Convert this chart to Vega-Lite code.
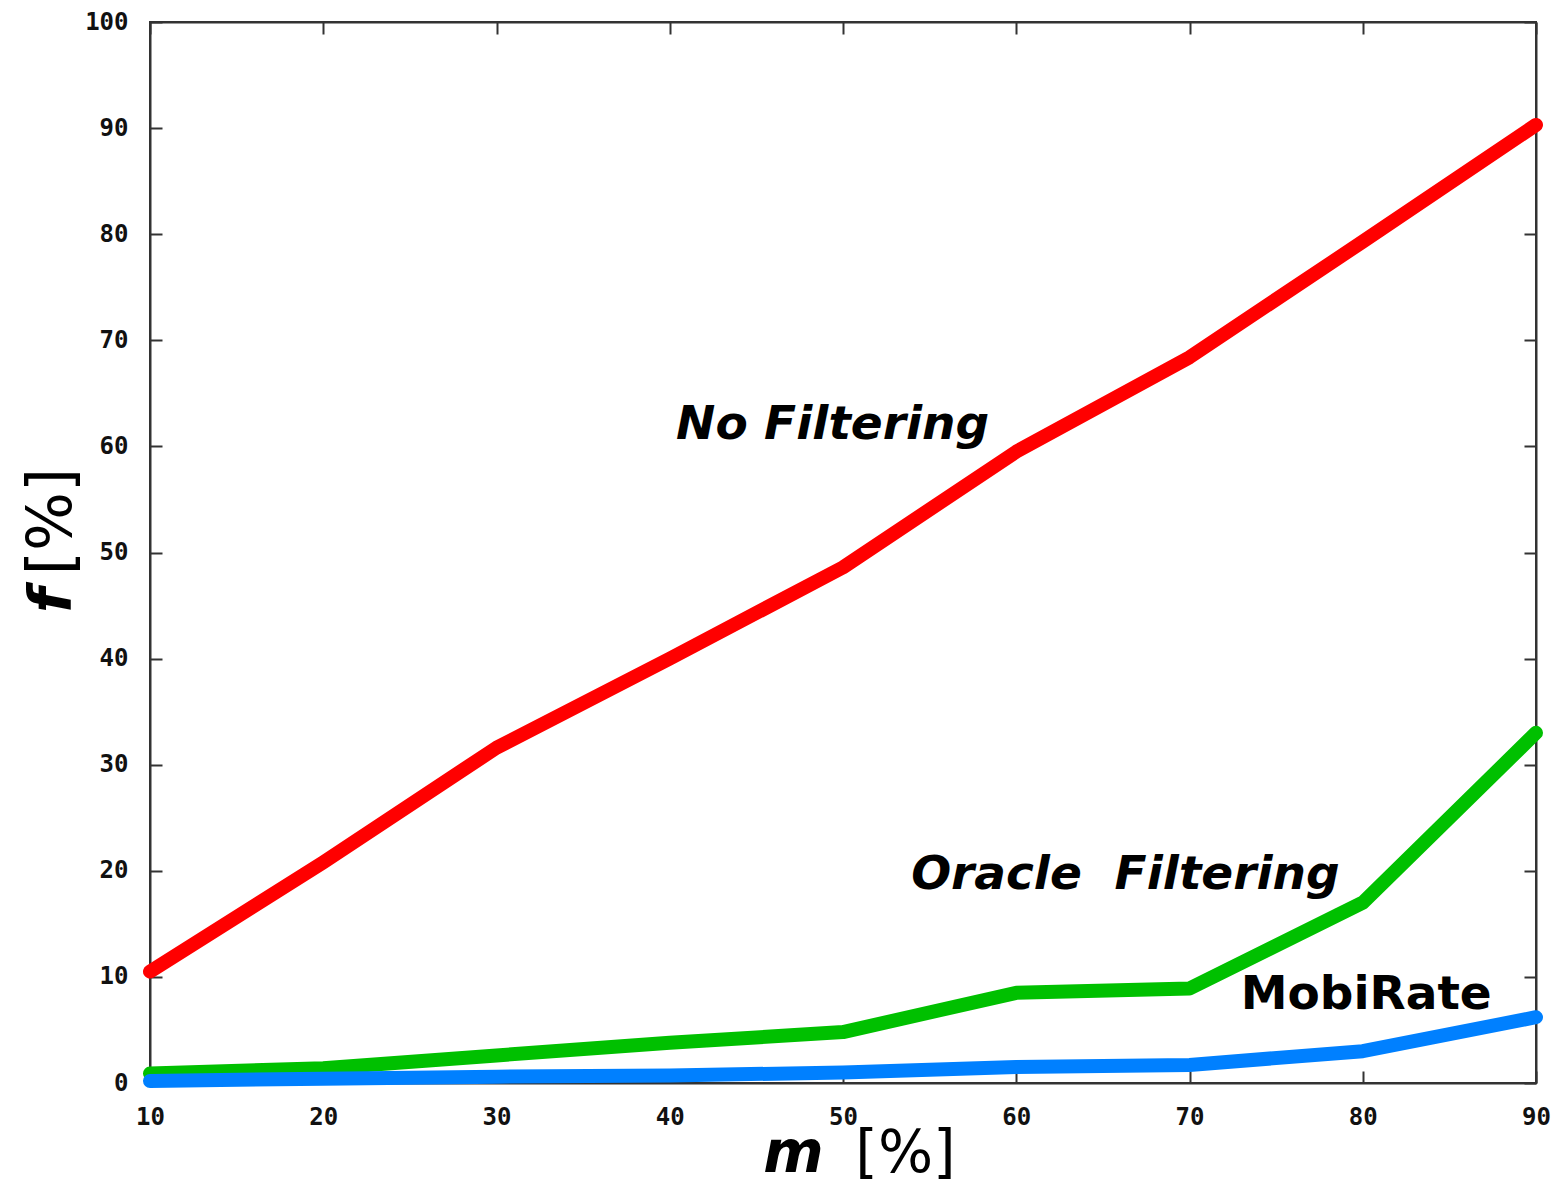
{
  "$schema": "https://vega.github.io/schema/vega-lite/v6.json",
  "width": 1386,
  "height": 1061,
  "autosize": {"type": "none"},
  "padding": {"left": 150, "top": 22, "right": 31, "bottom": 105},
  "background": "white",
  "config": {
    "view": {"stroke": "#333", "strokeWidth": 2},
    "axis": {
      "grid": false,
      "domainColor": "#333",
      "domainWidth": 2,
      "tickColor": "#333",
      "tickWidth": 2,
      "tickSize": -12,
      "labelFont": "DejaVu Sans Mono",
      "labelFontWeight": "bold",
      "labelFontSize": 24,
      "labelColor": "#111",
      "titleColor": "#000"
    }
  },
  "datasets": {
    "lines": [
      {"m": 10, "f": 10.5, "series": "No Filtering"},
      {"m": 20, "f": 20.8, "series": "No Filtering"},
      {"m": 30, "f": 31.6, "series": "No Filtering"},
      {"m": 40, "f": 40.0, "series": "No Filtering"},
      {"m": 50, "f": 48.6, "series": "No Filtering"},
      {"m": 60, "f": 59.5, "series": "No Filtering"},
      {"m": 70, "f": 68.4, "series": "No Filtering"},
      {"m": 80, "f": 79.3, "series": "No Filtering"},
      {"m": 90, "f": 90.3, "series": "No Filtering"},
      {"m": 10, "f": 0.9, "series": "Oracle Filtering"},
      {"m": 20, "f": 1.4, "series": "Oracle Filtering"},
      {"m": 30, "f": 2.6, "series": "Oracle Filtering"},
      {"m": 40, "f": 3.8, "series": "Oracle Filtering"},
      {"m": 50, "f": 4.8, "series": "Oracle Filtering"},
      {"m": 60, "f": 8.5, "series": "Oracle Filtering"},
      {"m": 70, "f": 8.9, "series": "Oracle Filtering"},
      {"m": 80, "f": 17.0, "series": "Oracle Filtering"},
      {"m": 90, "f": 33.0, "series": "Oracle Filtering"},
      {"m": 10, "f": 0.2, "series": "MobiRate"},
      {"m": 20, "f": 0.4, "series": "MobiRate"},
      {"m": 30, "f": 0.6, "series": "MobiRate"},
      {"m": 40, "f": 0.7, "series": "MobiRate"},
      {"m": 50, "f": 1.0, "series": "MobiRate"},
      {"m": 60, "f": 1.5, "series": "MobiRate"},
      {"m": 70, "f": 1.7, "series": "MobiRate"},
      {"m": 80, "f": 3.0, "series": "MobiRate"},
      {"m": 90, "f": 6.2, "series": "MobiRate"}
    ],
    "labels": [
      {"m": 49.4, "f": 62.0, "text": "No Filtering", "style": "italic"},
      {"m": 66.3, "f": 19.6, "text": "Oracle\u00a0\u00a0Filtering", "style": "italic"},
      {"m": 80.2, "f": 8.3, "text": "MobiRate", "style": "normal"}
    ]
  },
  "layer": [
    {
      "data": {"name": "lines"},
      "mark": {"type": "line", "strokeWidth": 14, "strokeCap": "round", "strokeJoin": "round", "clip": false},
      "encoding": {
        "x": {"field": "m", "type": "quantitative", "scale": {"domain": [10, 90], "nice": false, "zero": false},
              "axis": {"values": [10,20,30,40,50,60,70,80,90], "labelPadding": 34, "labelFlush": false,
                       "title": "[%]", "titleFont": "DejaVu Sans", "titleFontSize": 58, "titleFontWeight": "normal",
                       "titleX": 755, "titleY": 88, "titleBaseline": "alphabetic", "titleAlign": "center", "titleAngle": 0}},
        "y": {"field": "f", "type": "quantitative", "scale": {"domain": [0, 100], "nice": false},
              "axis": {"values": [0,10,20,30,40,50,60,70,80,90,100], "labelPadding": 34,
                       "title": "[%]", "titleFont": "DejaVu Sans", "titleFontSize": 62, "titleFontWeight": "normal",
                       "titleX": -80, "titleY": 499, "titleBaseline": "alphabetic", "titleAlign": "center", "titleAngle": 270}},
        "color": {"field": "series", "type": "nominal",
                  "scale": {"domain": ["No Filtering", "Oracle Filtering", "MobiRate"], "range": ["#ff0000", "#00c000", "#0080ff"]},
                  "legend": null},
        "order": {"field": "m", "type": "quantitative"}
      }
    },
    {
      "data": {"name": "labels"},
      "transform": [{"filter": "datum.style == 'italic'"}],
      "mark": {"type": "text", "font": "DejaVu Sans", "fontWeight": "bold", "fontStyle": "italic", "fontSize": 47, "align": "center", "baseline": "middle", "color": "#000"},
      "encoding": {
        "x": {"field": "m", "type": "quantitative",
              "axis": {"labels": false, "orient": "top", "values": [10,20,30,40,50,60,70,80,90],
                       "title": "m", "titleFont": "DejaVu Sans", "titleFontSize": 58, "titleFontWeight": "bold", "titleFontStyle": "italic",
                       "titleX": 643, "titleY": 1149, "titleBaseline": "alphabetic", "titleAlign": "center", "titleAngle": 0}},
        "y": {"field": "f", "type": "quantitative",
              "axis": {"labels": false, "orient": "right", "values": [0,10,20,30,40,50,60,70,80,90,100],
                       "title": "f", "titleFont": "DejaVu Sans", "titleFontSize": 58, "titleFontWeight": "bold", "titleFontStyle": "italic",
                       "titleX": -1466, "titleY": 578, "titleBaseline": "alphabetic", "titleAlign": "center", "titleAngle": 270}},
        "text": {"field": "text"}
      }
    },
    {
      "data": {"name": "labels"},
      "transform": [{"filter": "datum.style == 'normal'"}],
      "mark": {"type": "text", "font": "DejaVu Sans", "fontWeight": "bold", "fontSize": 47, "align": "center", "baseline": "middle", "color": "#000"},
      "encoding": {
        "x": {"field": "m", "type": "quantitative", "axis": null},
        "y": {"field": "f", "type": "quantitative", "axis": null},
        "text": {"field": "text"}
      }
    }
  ],
  "resolve": {"axis": {"x": "independent", "y": "independent"}}
}
